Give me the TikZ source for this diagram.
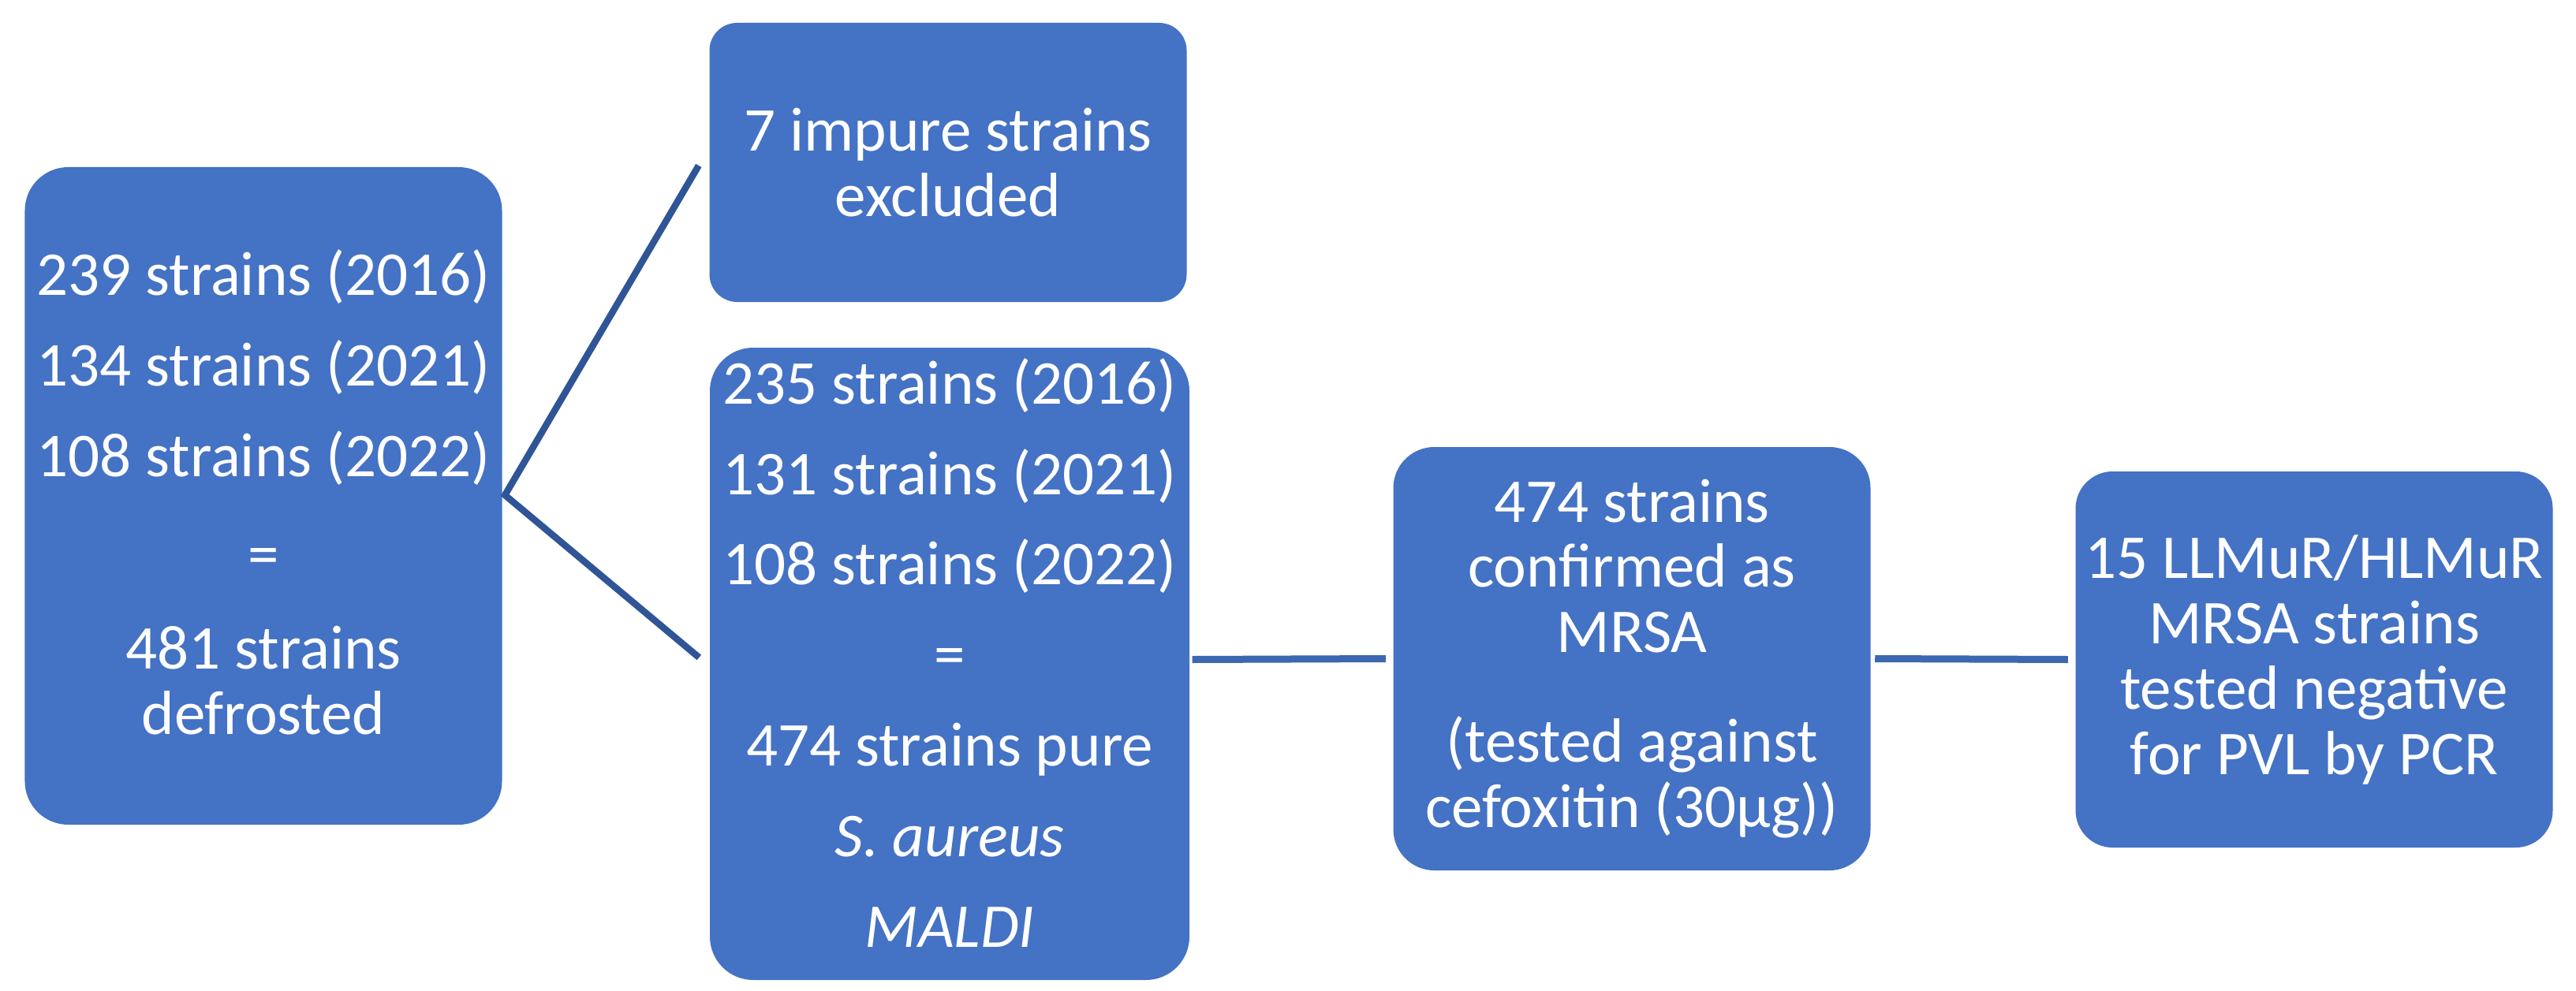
\documentclass[tikz,border=0pt]{standalone}
\usepackage{fontspec}
\setmainfont{Carlito}
\usetikzlibrary{calc}
\definecolor{boxblue}{HTML}{4472C4}
\definecolor{lineblue}{HTML}{3B68B1}
\definecolor{diagblue}{HTML}{2F5597}
\begin{document}
\begin{tikzpicture}[
  box/.style={draw=none, fill=boxblue, text=white, align=center, inner sep=0pt,
    minimum width=6.05cm, font=\fontsize{22.5}{23.6}\selectfont},
  conn/.style={draw=lineblue, line width=0.09cm},
  diag/.style={draw=diagblue, line width=0.085cm, line join=miter}
]
\useasboundingbox[fill=white] (0,0) rectangle (32.66,-12.56);
\node[box, rounded corners=0.55cm, minimum height=8.34cm] (A) at (3.34,-6.29)
  {239 strains (2016)\\[0.32cm]134 strains (2021)\\[0.32cm]108 strains (2022)\\[0.42cm]=\\[0.36cm]481 strains\\defrosted\rule[-0.1cm]{0pt}{0pt}};
\node[box, rounded corners=0.35cm, minimum height=3.54cm] (B) at (12.02,-2.06)
  {7 impure strains\\excluded};
\node[box, rounded corners=0.55cm, minimum width=6.08cm, minimum height=8.02cm] (C) at (12.04,-8.42)
  {235 strains (2016)\\[0.32cm]131 strains (2021)\\[0.32cm]108 strains (2022)\\[0.32cm]=\\[0.32cm]474 strains pure\\[0.32cm]\textit{S. aureus}\\[0.32cm]\textit{MALDI}\rule[-0.28cm]{0pt}{0pt}};
\node[box, rounded corners=0.52cm, minimum height=5.37cm] (D) at (20.69,-8.355)
  {474 strains\\confirmed as\\MRSA\\[0.56cm](tested against\\cefoxitin (30µg))};
\node[box, rounded corners=0.47cm, minimum height=4.77cm] (E) at (29.34,-8.365)
  {15 LLMuR/HLMuR\\MRSA strains\\tested negative\\for PVL by PCR};
\draw[diag] ($(B.west)+(-0.13,-0.04)$) -- ($(A.east)+(0.03,0.01)$) -- ($(C.west)+(-0.13,0.08)$);
\draw[conn] ($(C.east)+(0.03,0.055)$) -- ($(D.west)+(-0.09,0)$);
\draw[conn] ($(D.east)+(0.05,0)$) -- ($(E.west)+(-0.09,0)$);
\end{tikzpicture}
\end{document}
